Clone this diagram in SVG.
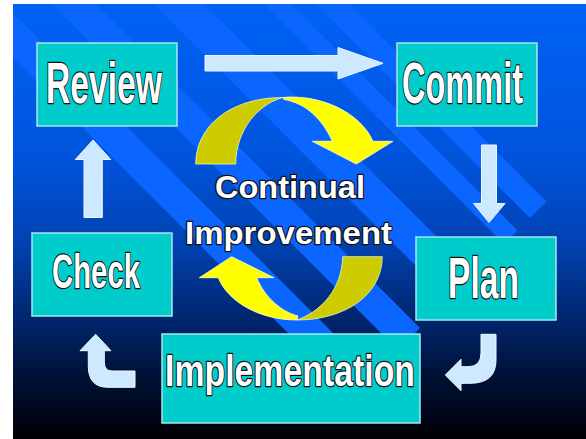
<svg xmlns="http://www.w3.org/2000/svg" width="586" height="439" viewBox="0 0 586 439">
<defs>
<linearGradient id="bgGrad" gradientUnits="userSpaceOnUse" x1="0" y1="4" x2="0" y2="439">
<stop offset="0" stop-color="#0062F5"/>
<stop offset="0.35" stop-color="#0054DC"/>
<stop offset="0.55" stop-color="#0042B2"/>
<stop offset="0.7" stop-color="#002A78"/>
<stop offset="0.85" stop-color="#001238"/>
<stop offset="1" stop-color="#000004"/>
</linearGradient>
<clipPath id="bgClip"><rect x="13" y="4" width="573" height="435"/></clipPath>
</defs>
<style>
.box{fill:#00CCCC;stroke:#A8E6EE;stroke-width:1.5}
.lbl{font-family:"Liberation Sans Narrow","Liberation Sans",Arial,sans-serif;font-weight:bold;fill:#fff;stroke:#111;stroke-width:2.4;paint-order:stroke fill;stroke-linejoin:round}
.ctr{font-family:"Liberation Sans",Arial,sans-serif;font-weight:bold;fill:#fff;stroke:#111;stroke-width:2.4;paint-order:stroke fill;stroke-linejoin:round}
.arr{fill:#CDE9FF;stroke:#EEF7FF;stroke-width:1}
.stripe{fill:#0A66FF}
.ydark{fill:#CCCC00;stroke:#F4F4C0;stroke-width:0.8}
.ybright{fill:#FFFF00;stroke:#FFFFE0;stroke-width:0.8}
</style>
<g id="background">
<rect x="13" y="4" width="573" height="435" fill="url(#bgGrad)"/>
<g clip-path="url(#bgClip)">
<polygon class="stripe" points="-44,-356 530,218 546.5,201.5 -27.5,-372.5"/>
<polygon class="stripe" points="-70,-330 504,244 517.5,230.5 -56.5,-343.5"/>
<polygon class="stripe" points="-125,-275 449,299 474,274 -100,-300"/>
<polygon class="stripe" points="-176,-224 398,350 420,328 -154,-246"/>
<polygon class="stripe" points="-222.5,-177.5 351.5,396.5 374,374 -200,-200"/>
</g>
</g>
<g id="connectors">
<polygon class="arr" points="205,55.5 338,55.5 338,47.5 383,63.3 338,79 338,71 205,71"/>
<polygon class="arr" points="481.5,145 496.5,145 496.5,203.5 505,203.5 489,222.5 473.5,203.5 481.5,203.5"/>
<path class="arr" d="M481,334.3 L496,334.3 L496,360 Q496,383.3 470,383.3 L461,383.3 L461,390.7 L445.3,375 L461,359.3 L461,366.7 L468,366.7 Q481,366.7 481,353 Z"/>
<path class="arr" d="M135,371 L112,371 Q104.3,371 104.3,362 L104.3,350.7 L111,350.7 L95.7,334.3 L80,350.7 L88.3,350.7 L88.3,366 Q88.3,387.3 108,387.3 L135,387.3 Z"/>
<polygon class="arr" points="84,217.5 102.3,217.5 102.3,159.5 110.8,159.5 93,140 75.3,159.5 84,159.5"/>
</g>
<g id="cycle">
<path class="ydark" d="M195.7,164 C195.7,128 228,97.5 283,97.5 C258,104 236,130 235.7,164 Z"/>
<path class="ybright" d="M283,97.5 C320,94 360,112 373,141.3 L393,141.3 L356.3,164 L312.3,141.3 L332.3,141.3 C322,118 305,103 284,99.5 Z"/>
<path class="ydark" d="M382.3,256.7 C382,295 345,320 296.7,320 C320,312 342,290 342.7,256.7 Z"/>
<path class="ybright" d="M296.7,320 C260,320 228,302 218.3,277.7 L199.3,277.7 L231.7,256.7 L274,277.7 L256.7,277.7 C265,298 282,312 298,316 Z"/>
</g>
<g id="center-label">
<text class="ctr" x="215" y="198" font-size="31" textLength="150" lengthAdjust="spacingAndGlyphs">Continual</text>
<text class="ctr" x="185" y="244.3" font-size="32" textLength="207" lengthAdjust="spacingAndGlyphs">Improvement</text>
</g>
<g id="review">
<rect class="box" x="37" y="43" width="140" height="83"/>
<text class="lbl" x="46" y="103" font-size="57" textLength="116" lengthAdjust="spacingAndGlyphs">Review</text>
</g>
<g id="commit">
<rect class="box" x="397" y="43" width="140" height="83"/>
<text class="lbl" x="402" y="103" font-size="57" textLength="121" lengthAdjust="spacingAndGlyphs">Commit</text>
</g>
<g id="plan">
<rect class="box" x="416" y="237" width="140" height="83"/>
<text class="lbl" x="448" y="298" font-size="57" textLength="71" lengthAdjust="spacingAndGlyphs">Plan</text>
</g>
<g id="implementation">
<rect class="box" x="162" y="334" width="258" height="89"/>
<text class="lbl" x="165" y="386" font-size="44" textLength="250" lengthAdjust="spacingAndGlyphs">Implementation</text>
</g>
<g id="check">
<rect class="box" x="32" y="233" width="140" height="83"/>
<text class="lbl" x="52" y="288" font-size="49" textLength="88" lengthAdjust="spacingAndGlyphs">Check</text>
</g>
</svg>
